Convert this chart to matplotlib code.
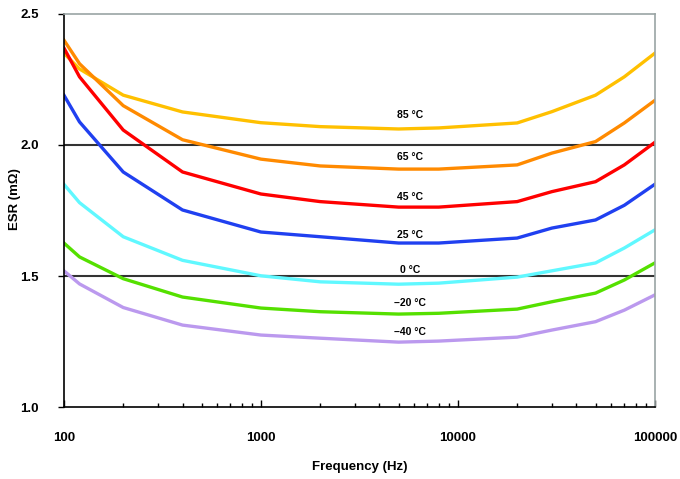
import matplotlib
matplotlib.use("Agg")
import matplotlib.pyplot as plt
from matplotlib.ticker import FixedLocator, NullFormatter, LogLocator

plt.rcParams['font.family'] = ['Liberation Sans', 'DejaVu Sans']

# frequency points (Hz)
freq = [100, 120, 200, 400, 1000, 2000, 5000, 8000, 20000, 30000, 50000, 70000, 100000]

# ESR (mOhm) per temperature
esr_85 = [2.35, 2.29, 2.19, 2.126, 2.085, 2.07, 2.061, 2.065, 2.084, 2.127, 2.19, 2.26, 2.35]
esr_65 = [2.40, 2.31, 2.15, 2.02, 1.946, 1.92, 1.908, 1.908, 1.924, 1.969, 2.013, 2.084, 2.17]
esr_45 = [2.37, 2.26, 2.057, 1.897, 1.813, 1.784, 1.763, 1.763, 1.784, 1.822, 1.86, 1.924, 2.01]
esr_25 = [2.19, 2.088, 1.897, 1.752, 1.668, 1.65, 1.626, 1.626, 1.645, 1.683, 1.714, 1.77, 1.85]
esr_0 = [1.85, 1.78, 1.65, 1.56, 1.501, 1.478, 1.469, 1.473, 1.496, 1.52, 1.55, 1.607, 1.676]
esr_m20 = [1.626, 1.573, 1.49, 1.42, 1.378, 1.364, 1.355, 1.358, 1.374, 1.402, 1.435, 1.485, 1.55]
esr_m40 = [1.52, 1.47, 1.38, 1.313, 1.275, 1.263, 1.248, 1.252, 1.267, 1.294, 1.326, 1.37, 1.428]

series = [esr_85, esr_65, esr_45, esr_25, esr_0, esr_m20, esr_m40]
labels = ['85 °C', '65 °C', '45 °C', '25 °C', '0 °C', '\u201320 °C', '\u201340 °C']
colors = ['#FFC000', '#FF8A00', '#FF0000', '#2040F0', '#60F8FF', '#55E000', '#BB99EE']
label_y = [2.115, 1.955, 1.803, 1.656, 1.523, 1.397, 1.287]

fig = plt.figure(figsize=(6.8, 4.79), dpi=100)
ax = fig.add_axes([0.094, 0.150, 0.869, 0.821])

ax.axhline(2.0, color='#333333', lw=1.5, zorder=1)
ax.axhline(1.5, color='#333333', lw=1.5, zorder=1)

for ys, c in zip(series, colors):
    ax.plot(freq, ys, color=c, lw=2.4, zorder=2)

for lab, ly in zip(labels, label_y):
    ax.text(5700, ly, lab, ha='center', va='center', fontsize=7.5, fontweight='bold')

ax.set_xscale('log')
ax.set_xlim(100, 100000)
ax.set_ylim(1.0, 2.5)
ax.set_yticks([1.0, 1.5, 2.0, 2.5])
ax.set_yticklabels(['1.0', '1.5', '2.0', '2.5'], fontsize=9.5, fontweight='bold')
ax.xaxis.set_major_locator(FixedLocator([100, 1000, 10000, 100000]))
ax.xaxis.set_minor_locator(LogLocator(base=10, subs=range(2, 10)))
ax.xaxis.set_minor_formatter(NullFormatter())
ax.set_xticklabels(['100', '1000', '10000', '100000'], fontsize=9.5, fontweight='bold')
ax.tick_params(axis='x', which='major', direction='in', length=5, width=1, pad=18)
ax.tick_params(axis='x', which='minor', direction='in', length=3, width=1)
ax.tick_params(axis='y', direction='out', length=4, width=1, pad=14)

ax.set_xlabel('Frequency (Hz)', fontsize=9.5, fontweight='bold', labelpad=12)
ax.set_ylabel('ESR (m\u03a9)', fontsize=9.5, fontweight='bold')
ax.yaxis.set_label_coords(-0.072, 0.53)

for s in ['top', 'right']:
    ax.spines[s].set_color('#9aa4a4')
    ax.spines[s].set_linewidth(1.2)
for s in ['left', 'bottom']:
    ax.spines[s].set_color('black')
    ax.spines[s].set_linewidth(1.2)

fig.savefig('out.png', dpi=100)
